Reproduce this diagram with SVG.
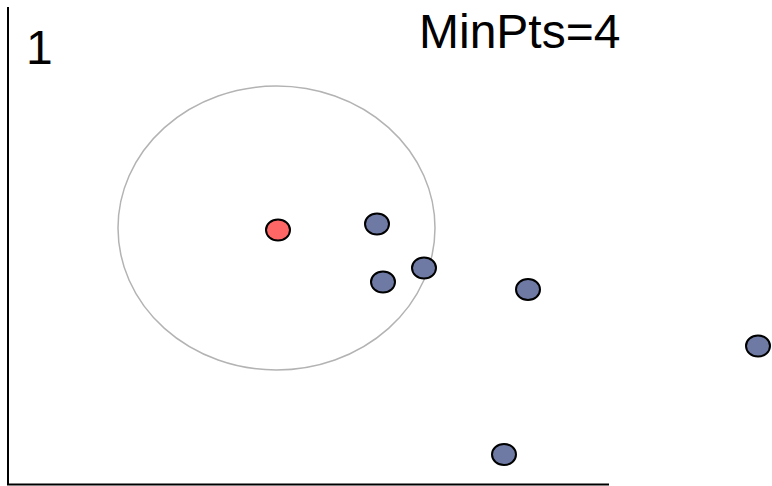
<svg xmlns="http://www.w3.org/2000/svg" width="772" height="486" viewBox="0 0 772 486">
<style>
.lbl{font-family:"Liberation Sans",Arial,sans-serif;font-size:48px;fill:#000}
.pt{stroke:#000;stroke-width:2}
.core{fill:#ff6666}
.nb{fill:#6e7aa3}
.axis{stroke:#000;stroke-width:2;fill:none}
</style>
<rect width="772" height="486" fill="#fff"/>
<g id="connectors">
<path class="axis" d="M8 7 V484.5 H609"/>
</g>
<g id="eps-circle"><ellipse cx="276.5" cy="228" rx="158.5" ry="142" fill="none" stroke="#b3b3b3" stroke-width="1.5"/></g>
<g id="label-1"><text class="lbl" x="26" y="64">1</text></g>
<g id="label-minpts"><text class="lbl" x="419" y="48">MinPts=4</text></g>
<g id="p-core"><ellipse class="pt core" cx="278" cy="230" rx="12" ry="10.5"/></g>
<g id="p1"><ellipse class="pt nb" cx="377" cy="224" rx="12" ry="10.5"/></g>
<g id="p2"><ellipse class="pt nb" cx="424" cy="268" rx="12" ry="10.5"/></g>
<g id="p3"><ellipse class="pt nb" cx="383" cy="282" rx="12" ry="10.5"/></g>
<g id="p4"><ellipse class="pt nb" cx="528" cy="289.5" rx="12" ry="10.5"/></g>
<g id="p5"><ellipse class="pt nb" cx="758" cy="346" rx="12" ry="10.5"/></g>
<g id="p6"><ellipse class="pt nb" cx="504" cy="454.5" rx="12" ry="10.5"/></g>
</svg>
